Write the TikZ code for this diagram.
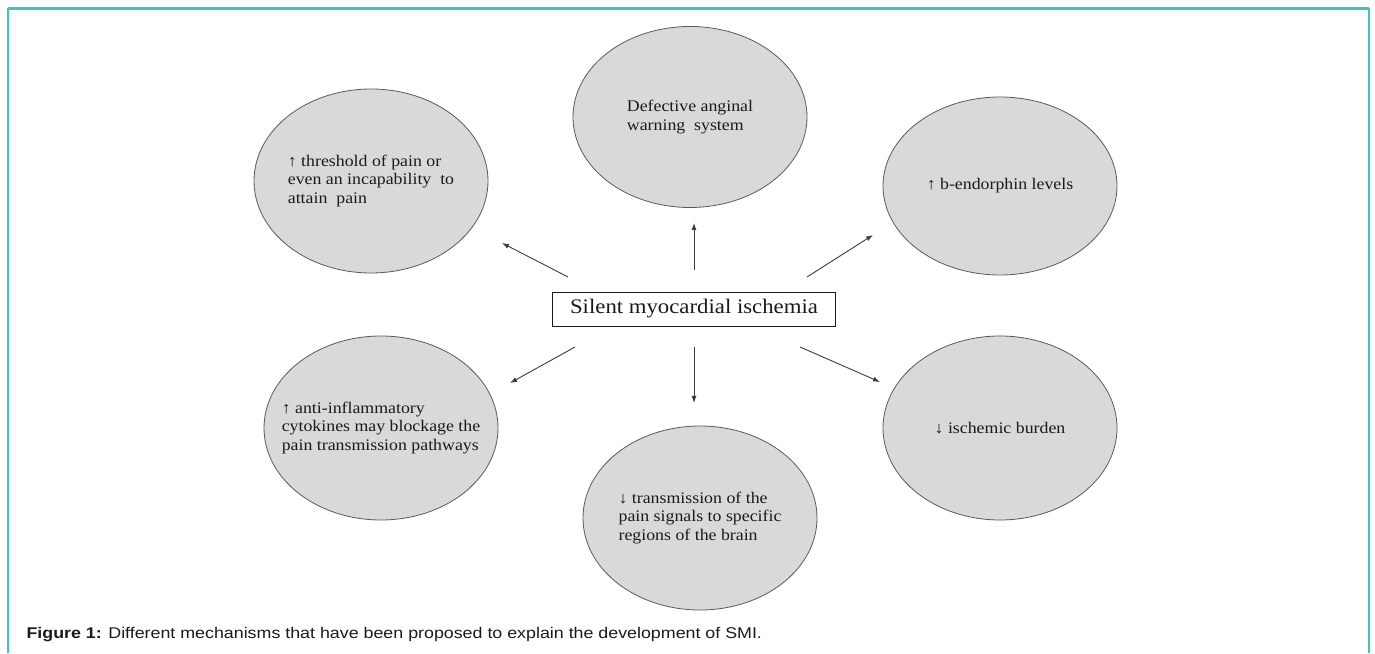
\documentclass[tikz,border=0pt]{standalone}
\usepackage{fontspec}
\setmainfont{Liberation Serif}[FakeStretch=1.1]
\newfontfamily\capfont{Liberation Sans}[FakeStretch=1.15]
\usetikzlibrary{arrows.meta, shapes.geometric}
\definecolor{ink}{HTML}{1A1A1A}
\definecolor{bubbleA}{HTML}{D9D9D9}
\definecolor{bubbleB}{HTML}{5A5A5A}
\definecolor{tealF}{HTML}{3CC8B4}
\tikzset{
  bubble/.style={ellipse, draw=bubbleB, line width=0.8pt, fill=bubbleA, minimum width=234pt, minimum height=184pt, inner xsep=-40pt, inner ysep=0pt, align=left, font=\fontsize{16.2}{18.5}\selectfont, text=ink},
  mainbox/.style={rectangle, draw=ink, line width=0.8pt, fill=white, minimum width=283pt, minimum height=34pt, font=\fontsize{20.7}{23}\selectfont, text=ink},
  arr/.style={-{Latex[length=7pt,width=5pt]}, line width=0.9pt, draw=ink!85},
  caption/.style={font=\capfont\fontsize{15.5}{17}\selectfont, text=ink, anchor=base west}
}

\begin{document}
\begin{tikzpicture}[x=1pt,y=1pt]
\useasboundingbox (0,0) rectangle (1375,653);

\draw[tealF, line width=1.5pt] (8,0) -- (8,644.5) -- (1369,644.5) -- (1369,0);
\draw[tealF, line width=2.5pt] (8,644.5) -- (1369,644.5);

\node[mainbox] (smi) at (694,344) {Silent myocardial ischemia};

\node[bubble] (threshold) at (371,472) {↑ threshold of pain or\\even an incapability\ \ to\\attain\ \ pain};
\node[bubble, minimum height=181pt] (anginal) at (690,536) {Defective anginal\\warning\ \ system};
\node[bubble, minimum height=178pt] (endorphin) at (1000,467) {↑ b-endorphin levels};
\node[bubble] (cytokines) at (381,225) {↑ anti-inflammatory\\cytokines may blockage the\\pain transmission pathways};
\node[bubble] (signals) at (700,135) {↓ transmission of the\\pain signals to specific\\regions of the brain};
\node[bubble] (burden) at (1000,225) {↓ ischemic burden};

\coordinate (threshold-s) at (568,376);
\coordinate (threshold-e) at (502,410);
\coordinate (anginal-s) at (694,383);
\coordinate (anginal-e) at (694,430);
\coordinate (endorphin-s) at (807,376);
\coordinate (endorphin-e) at (873,418);
\coordinate (cytokines-s) at (575,306);
\coordinate (cytokines-e) at (510,270);
\coordinate (signals-s) at (694,306);
\coordinate (signals-e) at (694,250);
\coordinate (burden-s) at (800,306);
\coordinate (burden-e) at (880,271);

\draw[arr] (threshold-s) -- (threshold-e);
\draw[arr] (anginal-s) -- (anginal-e);
\draw[arr] (endorphin-s) -- (endorphin-e);
\draw[arr] (cytokines-s) -- (cytokines-e);
\draw[arr] (signals-s) -- (signals-e);
\draw[arr] (burden-s) -- (burden-e);

\node[caption] (cap) at (23,15) {\textbf{Figure 1:} Different mechanisms that have been proposed to explain the development of SMI.};

\end{tikzpicture}
\end{document}
